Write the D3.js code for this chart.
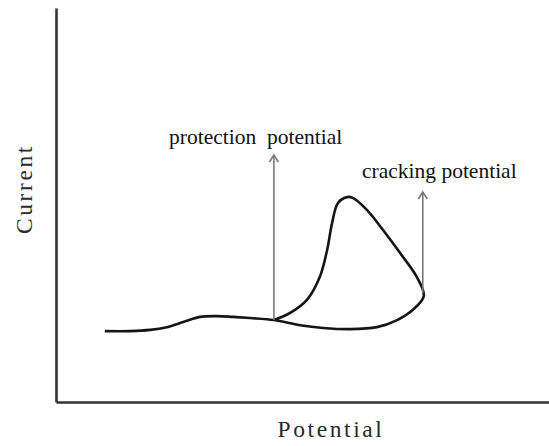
<!DOCTYPE html>
<html><head><meta charset="utf-8">
<script src="https://cdn.jsdelivr.net/npm/d3@7"></script>
<style>html,body{margin:0;padding:0;background:#fff;}svg{display:block;}</style>
</head><body>
<script>
// Forward scan (lower branch): potential / current (arbitrary units 0..100)
const forwardPotential = [9.9, 15.0, 19.1, 22.5, 25.8, 29.2, 32.7, 35.9, 39.4, 44.2, 49.5, 54.2, 59.6, 65.1, 69.2, 72.4, 74.6];
const forwardCurrent   = [18.0, 18.0, 18.3, 19.0, 20.3, 21.6, 21.8, 21.6, 21.3, 20.8, 19.5, 18.8, 18.5, 19.0, 20.8, 23.4, 26.9];
// Reverse scan (upper loop)
const reversePotential = [74.6, 73.2, 69.8, 66.3, 63.1, 60.2, 59.0, 57.2, 56.0, 55.0, 53.5, 50.9, 47.5, 44.2];
const reverseCurrent   = [26.9, 31.7, 37.8, 43.7, 48.7, 51.8, 52.0, 50.5, 45.4, 38.6, 31.7, 25.9, 22.6, 20.8];
// Annotation arrows
const markerLabels = ["protection  potential", "cracking potential"];
const markerPotential = [44.2, 74.4];
const markerFrom = [20.8, 27.7];
const markerTo = [62.7, 53.3];
const axisLabels = {x: "Potential", y: "Current"};

const W = 549, H = 446;
const x = d3.scaleLinear().domain([0, 100]).range([56, 549]);
const y = d3.scaleLinear().domain([0, 100]).range([402, 8]);

const svg = d3.select("body").append("svg").attr("width", W).attr("height", H);

// Axes (no ticks)
const gx = svg.append("g").attr("transform", `translate(0,${y(0)})`)
  .call(d3.axisBottom(x).ticks(0).tickSize(0).tickSizeOuter(0));
const gy = svg.append("g").attr("transform", `translate(${x(0)},0)`)
  .call(d3.axisLeft(y).ticks(0).tickSize(0).tickSizeOuter(0));
[gx, gy].forEach(g => g.select(".domain").attr("stroke", "#333").attr("stroke-width", 2.6));

// Curve
const pts = forwardPotential.map((p, i) => [p, forwardCurrent[i]])
  .concat(reversePotential.slice(1).map((p, i) => [p, reverseCurrent[i + 1]]));
const line = d3.line().x(d => x(d[0])).y(d => y(d[1])).curve(d3.curveCatmullRom.alpha(0.5));
svg.append("path").attr("d", line(pts)).attr("fill", "none")
  .attr("stroke", "#151515").attr("stroke-width", 2.6).attr("stroke-linejoin", "round");

// Arrows
const arrows = svg.append("g").attr("stroke", "#7a7a7a").attr("stroke-width", 1.6).attr("fill", "none");
markerPotential.forEach((p, i) => {
  const px = x(p), y0 = y(markerFrom[i]), y1 = y(markerTo[i]);
  arrows.append("line").attr("x1", px).attr("x2", px).attr("y1", y0).attr("y2", y1);
  arrows.append("path").attr("d", `M${px - 4.5},${y1 + 7}L${px},${y1}L${px + 4.5},${y1 + 7}`);
});

// Labels
const labelPos = [[169, 144], [362, 178]];
markerLabels.forEach((t, i) => {
  svg.append("text").attr("x", labelPos[i][0]).attr("y", labelPos[i][1])
    .attr("font-family", "Liberation Serif, Times New Roman, serif").attr("font-size", 21.5)
    .attr("fill", "#111").style("white-space", "pre").text(t);
});

svg.append("text").attr("x", 331).attr("y", 437).attr("text-anchor", "middle")
  .attr("font-family", "Liberation Serif, Times New Roman, serif").attr("font-size", 23.5)
  .attr("letter-spacing", 2.6).attr("fill", "#2a2a2a").text(axisLabels.x);
svg.append("text").attr("transform", "translate(32,189) rotate(-90)").attr("text-anchor", "middle")
  .attr("font-family", "Liberation Serif, Times New Roman, serif").attr("font-size", 23.5)
  .attr("letter-spacing", 2.6).attr("fill", "#2a2a2a").text(axisLabels.y);
</script>
</body></html>
